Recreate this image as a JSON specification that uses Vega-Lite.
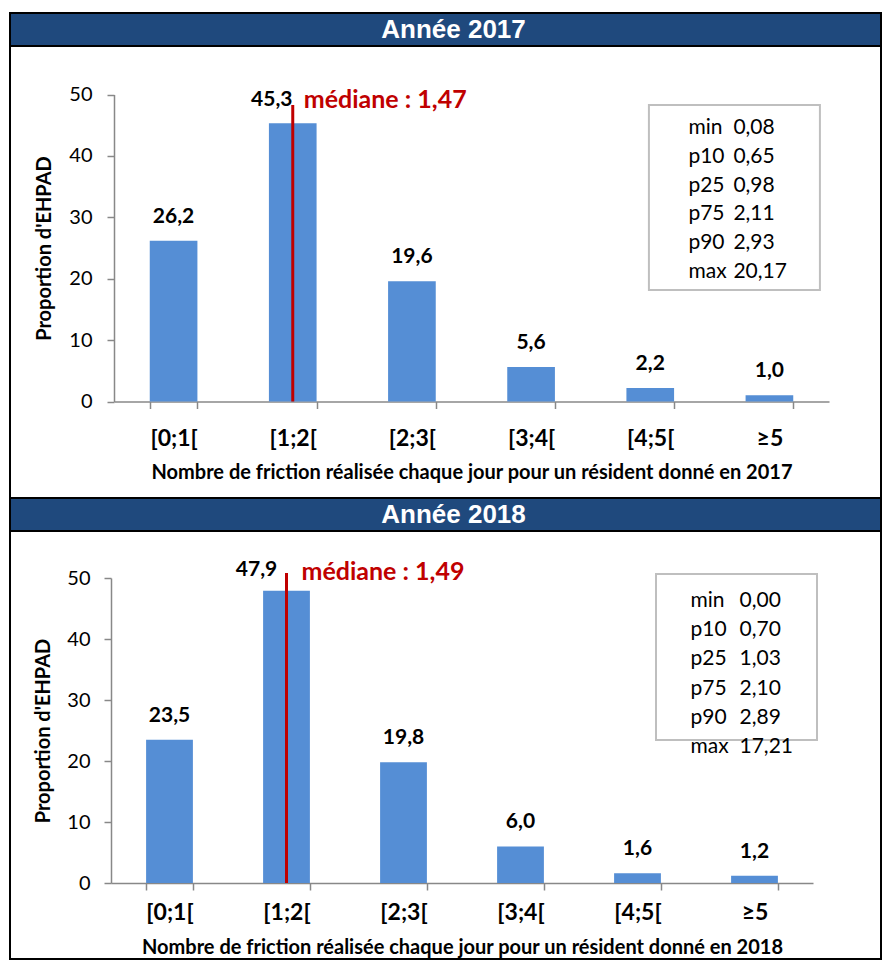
{
  "$schema": "https://vega.github.io/schema/vega-lite/v6.json",
  "background": "white",
  "padding": {"left": 9, "top": 12, "right": 0, "bottom": 0},
  "bounds": "flush",
  "config": {
    "font": "Lato",
    "locale": {"number": {"decimal": ",", "thousands": " ", "grouping": [3], "currency": ["", " €"]}},
    "axis": {"domainColor": "#888888", "tickColor": "#888888", "domainWidth": 1.5, "tickWidth": 1.5, "tickSize": 7, "labelColor": "black", "titleColor": "black", "labelFont": "Lato", "titleFont": "Lato", "grid": false}
  },
  "datasets": {
    "h2017": [{"title": "Année 2017"}],
    "h2018": [{"title": "Année 2018"}],
    "d2017": [
      {"cat": "[0;1[", "pct": 26.2},
      {"cat": "[1;2[", "pct": 45.3},
      {"cat": "[2;3[", "pct": 19.6},
      {"cat": "[3;4[", "pct": 5.6},
      {"cat": "[4;5[", "pct": 2.2},
      {"cat": "≥5", "pct": 1.0}
    ],
    "d2018": [
      {"cat": "[0;1[", "pct": 23.5},
      {"cat": "[1;2[", "pct": 47.9},
      {"cat": "[2;3[", "pct": 19.8},
      {"cat": "[3;4[", "pct": 6.0},
      {"cat": "[4;5[", "pct": 1.6},
      {"cat": "≥5", "pct": 1.2}
    ],
    "m2017": [{"median": 1.47, "label": "médiane : 1,47"}],
    "m2018": [{"median": 1.49, "label": "médiane : 1,49"}],
    "s2017": [
      {"stat": "min", "val": 0.08},
      {"stat": "p10", "val": 0.65},
      {"stat": "p25", "val": 0.98},
      {"stat": "p75", "val": 2.11},
      {"stat": "p90", "val": 2.93},
      {"stat": "max", "val": 20.17}
    ],
    "s2018": [
      {"stat": "min", "val": 0.00},
      {"stat": "p10", "val": 0.70},
      {"stat": "p25", "val": 1.03},
      {"stat": "p75", "val": 2.10},
      {"stat": "p90", "val": 2.89},
      {"stat": "max", "val": 17.21}
    ]
  },
  "spacing": 0,
  "vconcat": [
    {
      "width": 871, "height": 33,
      "view": {"fill": "#1F497D", "stroke": "black", "strokeWidth": 2},
      "data": {"name": "h2017"},
      "mark": {"type": "text", "font": "Liberation Sans", "fontWeight": "bold", "fontSize": 26, "color": "white", "dx": 8, "baseline": "middle"},
      "encoding": {"text": {"field": "title", "type": "nominal"}}
    },
    {
      "width": 871, "height": 452,
      "view": {"fill": "white", "stroke": "black", "strokeWidth": 2},
      "resolve": {"scale": {"y": "independent"}},
      "layer": [
        {
          "layer": [
            {
              "encoding": {
                "x": {"field": "cat", "type": "nominal",
                  "scale": {"domain": ["[0;1[", "[1;2[", "[2;3[", "[3;4[", "[4;5[", "≥5"], "range": [104, 819], "paddingInner": 0.6, "paddingOuter": 0.3},
                  "axis": {"title": "Nombre de friction réalisée chaque jour pour un résident donné en 2017", "offset": -96.5, "labelAngle": 0, "tickBand": "extent", "labelFontWeight": "bold", "labelFontSize": 23, "labelPadding": 18.5, "titleFontSize": 20, "titleFontWeight": "bold", "titlePadding": 12.5}},
                "y": {"field": "pct", "type": "quantitative",
                  "scale": {"domain": [0, 50], "range": [355.5, 48.5], "nice": false},
                  "axis": {"title": "Proportion d'EHPAD", "offset": -104, "values": [0, 10, 20, 30, 40, 50], "labelFontSize": 20, "labelPadding": 15, "titleFontSize": 20, "titleFontWeight": "bold", "titlePadding": 14}}
              },
              "layer": [
                {"data": {"name": "d2017"}, "mark": {"type": "bar", "color": "#558ED5"}},
                {"data": {"name": "d2017"}, "transform": [{"filter": "datum.cat !== '[1;2['"}],
                  "mark": {"type": "text", "fontWeight": "bold", "fontSize": 21, "dy": -24, "baseline": "middle", "color": "black"},
                  "encoding": {"text": {"field": "pct", "type": "quantitative", "format": ".1f"}}},
                {"data": {"name": "d2017"}, "transform": [{"filter": "datum.cat === '[1;2['"}],
                  "mark": {"type": "text", "fontWeight": "bold", "fontSize": 21, "dy": -23.5, "dx": -21, "baseline": "middle", "color": "black"},
                  "encoding": {"text": {"field": "pct", "type": "quantitative", "format": ".1f"}}}
              ]
            },
            {"data": {"name": "m2017"}, "mark": {"type": "rule", "color": "#C00000", "strokeWidth": 3},
              "encoding": {"x": {"datum": "[1;2[", "type": "nominal"}, "y": {"datum": 0, "type": "quantitative"}, "y2": {"datum": 48.3}}},
            {"data": {"name": "m2017"}, "mark": {"type": "text", "align": "left", "baseline": "middle", "dx": 11, "fontWeight": "bold", "fontSize": 25, "color": "#C00000"},
              "encoding": {"x": {"datum": "[1;2[", "type": "nominal"}, "y": {"datum": 49.1, "type": "quantitative"}, "text": {"field": "label", "type": "nominal"}}}
          ]
        },
        {
          "data": {"name": "s2017"},
          "encoding": {
            "y": {"field": "stat", "type": "ordinal", "scale": {"type": "point", "domain": ["min", "p10", "p25", "p75", "p90", "max"], "range": [82, 226], "padding": 0}, "axis": null}
          },
          "layer": [
            {"transform": [{"filter": "datum.stat === 'min'"}],
              "mark": {"type": "rect", "fill": "white", "stroke": "#BFBFBF", "strokeWidth": 2, "width": 171, "xOffset": -35, "yOffset": -23, "y2Offset": 18},
              "encoding": {"x": {"datum": "≥5", "type": "nominal"}, "y": {"datum": "min", "type": "ordinal"}, "y2": {"datum": "max"}}},
            {"mark": {"type": "text", "align": "left", "baseline": "middle", "dx": -81, "fontSize": 21, "color": "black"},
              "encoding": {"x": {"datum": "≥5", "type": "nominal"}, "text": {"field": "stat", "type": "nominal"}}},
            {"mark": {"type": "text", "align": "left", "baseline": "middle", "dx": -36, "fontSize": 21, "color": "black"},
              "encoding": {"x": {"datum": "≥5", "type": "nominal"}, "text": {"field": "val", "type": "quantitative", "format": ".2f"}}}
          ]
        }
      ]
    },
    {
      "width": 871, "height": 33,
      "view": {"fill": "#1F497D", "stroke": "black", "strokeWidth": 2},
      "data": {"name": "h2018"},
      "mark": {"type": "text", "font": "Liberation Sans", "fontWeight": "bold", "fontSize": 26, "color": "white", "dx": 8, "baseline": "middle"},
      "encoding": {"text": {"field": "title", "type": "nominal"}}
    },
    {
      "width": 871, "height": 428,
      "view": {"fill": "white", "stroke": "black", "strokeWidth": 2},
      "resolve": {"scale": {"y": "independent"}},
      "layer": [
        {
          "layer": [
            {
              "encoding": {
                "x": {"field": "cat", "type": "nominal",
                  "scale": {"domain": ["[0;1[", "[1;2[", "[2;3[", "[3;4[", "[4;5[", "≥5"], "range": [101, 803], "paddingInner": 0.6, "paddingOuter": 0.3},
                  "axis": {"title": "Nombre de friction réalisée chaque jour pour un résident donné en 2018", "offset": -76, "labelAngle": 0, "tickBand": "extent", "labelFontWeight": "bold", "labelFontSize": 23, "labelPadding": 11.5, "titleFontSize": 20, "titleFontWeight": "bold", "titlePadding": 13}},
                "y": {"field": "pct", "type": "quantitative",
                  "scale": {"domain": [0, 50], "range": [352, 47], "nice": false},
                  "axis": {"title": "Proportion d'EHPAD", "offset": -101, "values": [0, 10, 20, 30, 40, 50], "labelFontSize": 20, "labelPadding": 14, "titleFontSize": 20, "titleFontWeight": "bold", "titlePadding": 13}}
              },
              "layer": [
                {"data": {"name": "d2018"}, "mark": {"type": "bar", "color": "#558ED5"}},
                {"data": {"name": "d2018"}, "transform": [{"filter": "datum.cat !== '[1;2['"}],
                  "mark": {"type": "text", "fontWeight": "bold", "fontSize": 21, "dy": -24, "baseline": "middle", "color": "black"},
                  "encoding": {"text": {"field": "pct", "type": "quantitative", "format": ".1f"}}},
                {"data": {"name": "d2018"}, "transform": [{"filter": "datum.cat === '[1;2['"}],
                  "mark": {"type": "text", "fontWeight": "bold", "fontSize": 21, "dy": -21, "dx": -30, "baseline": "middle", "color": "black"},
                  "encoding": {"text": {"field": "pct", "type": "quantitative", "format": ".1f"}}}
              ]
            },
            {"data": {"name": "m2018"}, "mark": {"type": "rule", "color": "#C00000", "strokeWidth": 3},
              "encoding": {"x": {"datum": "[1;2[", "type": "nominal"}, "y": {"datum": 0, "type": "quantitative"}, "y2": {"datum": 50.8}}},
            {"data": {"name": "m2018"}, "mark": {"type": "text", "align": "left", "baseline": "middle", "dx": 15, "fontWeight": "bold", "fontSize": 25, "color": "#C00000"},
              "encoding": {"x": {"datum": "[1;2[", "type": "nominal"}, "y": {"datum": 51.0, "type": "quantitative"}, "text": {"field": "label", "type": "nominal"}}}
          ]
        },
        {
          "data": {"name": "s2018"},
          "encoding": {
            "y": {"field": "stat", "type": "ordinal", "scale": {"type": "point", "domain": ["min", "p10", "p25", "p75", "p90", "max"], "range": [70, 216], "padding": 0}, "axis": null}
          },
          "layer": [
            {"transform": [{"filter": "datum.stat === 'min'"}],
              "mark": {"type": "rect", "fill": "white", "stroke": "#BFBFBF", "strokeWidth": 2, "width": 161, "xOffset": -18, "yOffset": -27, "y2Offset": -7},
              "encoding": {"x": {"datum": "≥5", "type": "nominal"}, "y": {"datum": "min", "type": "ordinal"}, "y2": {"datum": "max"}}},
            {"mark": {"type": "text", "align": "left", "baseline": "middle", "dx": -64, "fontSize": 21, "color": "black"},
              "encoding": {"x": {"datum": "≥5", "type": "nominal"}, "text": {"field": "stat", "type": "nominal"}}},
            {"mark": {"type": "text", "align": "left", "baseline": "middle", "dx": -15, "fontSize": 21, "color": "black"},
              "encoding": {"x": {"datum": "≥5", "type": "nominal"}, "text": {"field": "val", "type": "quantitative", "format": ".2f"}}}
          ]
        }
      ]
    }
  ]
}
